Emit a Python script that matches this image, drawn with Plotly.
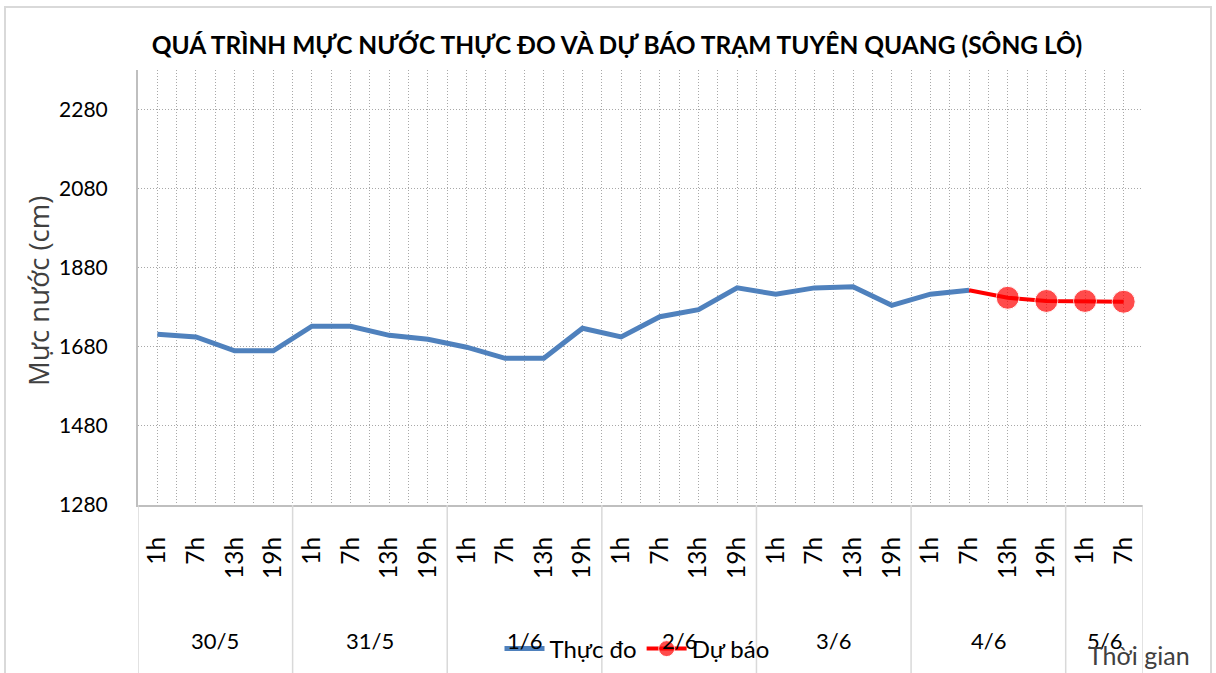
import plotly.graph_objects as go

# ---------------- data ----------------
day_labels = ["30/5", "31/5", "1/6", "2/6", "3/6", "4/6", "5/6"]
day_sizes = [4, 4, 4, 4, 4, 4, 2]
hour_labels = ["1h", "7h", "13h", "19h",
               "1h", "7h", "13h", "19h",
               "1h", "7h", "13h", "19h",
               "1h", "7h", "13h", "19h",
               "1h", "7h", "13h", "19h",
               "1h", "7h", "13h", "19h",
               "1h", "7h"]
actual_values = [1712, 1705, 1670, 1670, 1732, 1732, 1709, 1699,
                 1679, 1651, 1651, 1727, 1705, 1756, 1774, 1829,
                 1813, 1829, 1832, 1785, 1813, 1823]
forecast_values = [1823, 1804, 1796, 1796, 1794]
y_ticks = [1280, 1480, 1680, 1880, 2080, 2280]

title_text = "QUÁ TRÌNH MỰC NƯỚC THỰC ĐO VÀ DỰ BÁO TRẠM TUYÊN QUANG (SÔNG LÔ)"
y_title = "Mực nước (cm)"
x_title = "Thời gian"
name_actual = "Thực đo"
name_forecast = "Dự báo"

# ---------------- figure ----------------
FONT = "Lato, Liberation Sans Narrow, Open Sans, sans-serif"
W, H = 1216, 673
ML, MR, MT, MB = 138, 73, 70, 168
PW, PH = W - ML - MR, H - MT - MB

def px_x(px):
    return (px - ML) / PW

def px_y(py):
    return (H - MB - py) / PH

n = len(hour_labels)
x_actual = list(range(len(actual_values)))
x_fore = list(range(len(actual_values) - 1, len(actual_values) - 1 + len(forecast_values)))

fig = go.Figure()
fig.add_trace(go.Scatter(
    x=x_actual, y=actual_values, mode="lines", name=name_actual,
    line=dict(color="#4F81BD", width=5),
))
fig.add_trace(go.Scatter(
    x=x_fore, y=forecast_values, mode="lines+markers", name=name_forecast,
    line=dict(color="#FF0000", width=4),
    marker=dict(color="#FF0000", size=[0] + [23] * (len(forecast_values) - 1)),
))

grid_col = "#a8a8a8"
fig.update_xaxes(
    range=[-0.5, n - 0.5],
    tickmode="array", tickvals=list(range(n)), ticktext=hour_labels,
    tickangle=-90, ticks="", ticklabelstandoff=20,
    tickfont=dict(family=FONT, size=24.5, color="#000000"),
    showgrid=True, gridcolor=grid_col, griddash="1px,2px", gridwidth=1,
    minor=dict(tickvals=[i - 0.5 for i in range(n + 1)], showgrid=True,
               gridcolor=grid_col, griddash="1px,2px", gridwidth=1),
    showline=True, linecolor="#bfbfbf", linewidth=2,
    zeroline=False, fixedrange=True,
)
fig.update_yaxes(
    range=[1280, 2380],
    tickmode="array", tickvals=y_ticks,
    ticks="", ticklabelstandoff=24,
    tickfont=dict(family=FONT, size=21, color="#000000"),
    showgrid=True, gridcolor=grid_col, griddash="1px,2px", gridwidth=1,
    showline=True, linecolor="#bfbfbf", linewidth=2,
    zeroline=False,
)

shapes = []
# category group separators in the label area
b = -0.5
bounds = [b]
for s in day_sizes:
    b += s
    bounds.append(b)
for bx in bounds:
    shapes.append(dict(type="line", xref="x", yref="paper", x0=bx, x1=bx,
                       y0=0, y1=px_y(680), line=dict(color="#d9d9d9", width=1.5)))
# outer chart border
shapes.append(dict(type="rect", xref="paper", yref="paper",
                   x0=px_x(5), x1=px_x(1211), y0=px_y(690), y1=px_y(7),
                   line=dict(color="#d9d9d9", width=2), layer="below"))

annotations = []
start = 0
for lab, s in zip(day_labels, day_sizes):
    annotations.append(dict(
        x=start + (s - 1) / 2, xref="x", y=px_y(640), yref="paper",
        text=lab, showarrow=False, xanchor="center", yanchor="middle",
        font=dict(family=FONT, size=22, color="#000000")))
    start += s
annotations.append(dict(
    x=px_x(38), y=px_y(291), xref="paper", yref="paper", text=y_title, textangle=-90,
    showarrow=False, xanchor="center", yanchor="middle",
    font=dict(family="Open Sans, sans-serif", size=27.5, color="#404040")))
annotations.append(dict(
    x=px_x(1192), y=px_y(655), xref="paper", yref="paper", text=x_title,
    showarrow=False, xanchor="right", yanchor="middle",
    font=dict(family=FONT, size=25, color="#404040")))

fig.update_layout(
    width=W, height=H,
    margin=dict(l=ML, r=MR, t=MT, b=MB, autoexpand=False),
    paper_bgcolor="#ffffff", plot_bgcolor="#ffffff",
    title=dict(text="<b>" + title_text + "</b>", xref="container", x=617 / W,
               xanchor="center", y=1 - 45 / H, yanchor="middle",
               font=dict(family=FONT, size=24.5, color="#000000")),
    showlegend=True,
    legend=dict(orientation="h", x=px_x(637), y=px_y(649), xanchor="center",
                yanchor="middle", bgcolor="rgba(0,0,0,0)",
                font=dict(family=FONT, size=24, color="#000000"),
                itemwidth=40, tracegroupgap=0),
    shapes=shapes, annotations=annotations,
)

fig.write_html("out.html", config={"displayModeBar": False},
               post_script="document.body.style.margin='0';")
